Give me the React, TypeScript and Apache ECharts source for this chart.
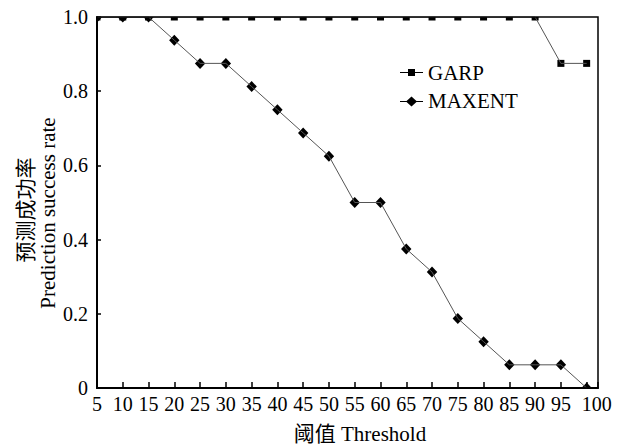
import React, { useEffect, useRef } from "react";
import * as echarts from "echarts";

const thresholds = [5, 10, 15, 20, 25, 30, 35, 40, 45, 50, 55, 60, 65, 70, 75, 80, 85, 90, 95, 100];
const garp = [1, 1, 1, 1, 1, 1, 1, 1, 1, 1, 1, 1, 1, 1, 1, 1, 1, 1, 0.875, 0.875];
const maxent = [1, 1, 1, 0.9375, 0.875, 0.875, 0.8125, 0.75, 0.6875, 0.625, 0.5, 0.5, 0.375, 0.3125, 0.1875, 0.125, 0.0625, 0.0625, 0.0625, 0];
const seriesNames = ["GARP", "MAXENT"];
const xTitle = "阈值 Threshold";
const yTitleCn = "预测成功率";
const yTitleEn = "Prediction success rate";

const FONT = "'Liberation Serif', 'Times New Roman', 'Noto Sans CJK SC', serif";

const G = { left: 97, top: 17, width: 501, height: 371 };

export default function App() {
  const ref = useRef<HTMLDivElement>(null);
  useEffect(() => {
    if (!ref.current) return;
    const chart = echarts.init(ref.current, undefined, { renderer: "svg" });
    const garpPts = thresholds.map((t, i) => [t, garp[i]]);
    const maxentPts = thresholds.map((t, i) => [t, maxent[i]]);
    chart.setOption({
      animation: false,
      backgroundColor: "#fff",
      grid: { left: G.left, top: G.top, width: G.width, height: G.height, containLabel: false },
      legend: {
        data: [
          { name: seriesNames[0], icon: "path://M0 4.5h23v1H0z M8 1.5h7v7H8z" },
          { name: seriesNames[1], icon: "path://M0 4.5h23v1H0z M11.5 0L17 5L11.5 10L6 5z" },
        ],
        orient: "vertical",
        left: 395,
        top: 57,
        itemWidth: 23,
        itemHeight: 10,
        itemGap: 8,
        symbolKeepAspect: true,
        textStyle: { fontSize: 21, color: "#000", fontFamily: FONT, padding: [0, 0, 0, 0] },
      },
      xAxis: {
        type: "value",
        min: 5,
        max: 102.2,
        interval: 5,
        axisLine: { show: true, lineStyle: { color: "#000", width: 2 } },
        axisTick: { show: true, inside: true, length: 6, lineStyle: { color: "#000", width: 1.5 } },
        splitLine: { show: false },
        axisLabel: {
          fontSize: 20,
          color: "#000",
          fontFamily: FONT,
          margin: 6,
          formatter: (v: number) => {
            if (Math.abs(v % 5) > 1e-6) return "";
            if (v === 100) return "{r|100}";
            return String(v);
          },
          rich: {
            r: { fontSize: 20, color: "#000", fontFamily: FONT, padding: [0, 0, 0, 20] },
          },
        },
      },
      yAxis: {
        type: "value",
        min: 0,
        max: 1,
        interval: 0.2,
        axisLine: { show: true, lineStyle: { color: "#000", width: 2 } },
        axisTick: { show: true, inside: true, length: 4, lineStyle: { color: "#000", width: 1.5 } },
        splitLine: { show: false },
        axisLabel: {
          fontSize: 20,
          color: "#000",
          fontFamily: FONT,
          margin: 9,
          formatter: (v: number) => (v === 0 ? "0" : v.toFixed(1)),
        },
      },
      graphic: [
        {
          type: "rect",
          z: 12,
          silent: true,
          shape: { x: G.left, y: G.top, width: G.width, height: G.height },
          style: { fill: "none", stroke: "#000", lineWidth: 1.5 },
        },
        {
          type: "text",
          z: 20,
          x: 360,
          y: 434,
          style: { text: xTitle, fontSize: 21, fontFamily: FONT, fill: "#000", textAlign: "center", textVerticalAlign: "middle" },
        },
        {
          type: "text",
          z: 20,
          x: 26,
          y: 210,
          rotation: Math.PI / 2,
          style: { text: yTitleCn, fontSize: 21, fontFamily: FONT, fill: "#000", textAlign: "center", textVerticalAlign: "middle" },
        },
        {
          type: "text",
          z: 20,
          x: 48,
          y: 213,
          rotation: Math.PI / 2,
          style: { text: yTitleEn, fontSize: 21, fontFamily: FONT, fill: "#000", textAlign: "center", textVerticalAlign: "middle" },
        },
      ],
      series: [
        {
          name: seriesNames[0],
          type: "line",
          data: garpPts,
          symbol: "none",
          clip: true,
          itemStyle: { color: "#000" },
          lineStyle: { color: "#555", width: 1 },
        },
        {
          name: seriesNames[1],
          type: "line",
          data: maxentPts,
          symbol: "none",
          clip: true,
          itemStyle: { color: "#000" },
          lineStyle: { color: "#555", width: 1 },
        },
        {
          type: "custom",
          clip: true,
          data: garpPts,
          encode: { x: 0, y: 1 },
          renderItem: (_p: any, api: any) => {
            const c = api.coord([api.value(0), api.value(1)]);
            return {
              type: "rect",
              shape: { x: c[0] - 3.5, y: c[1] - 3.5, width: 7, height: 7 },
              style: { fill: "#000" },
            };
          },
        },
        {
          type: "custom",
          clip: true,
          data: maxentPts,
          encode: { x: 0, y: 1 },
          renderItem: (_p: any, api: any) => {
            const c = api.coord([api.value(0), api.value(1)]);
            return {
              type: "polygon",
              shape: {
                points: [
                  [c[0], c[1] - 5.5],
                  [c[0] + 5.2, c[1]],
                  [c[0], c[1] + 5.5],
                  [c[0] - 5.2, c[1]],
                ],
              },
              style: { fill: "#000" },
            };
          },
        },
      ],
    });
    return () => chart.dispose();
  }, []);
  return <div ref={ref} style={{ position: "fixed", left: 0, top: 0, width: 627, height: 446 }} />;
}
